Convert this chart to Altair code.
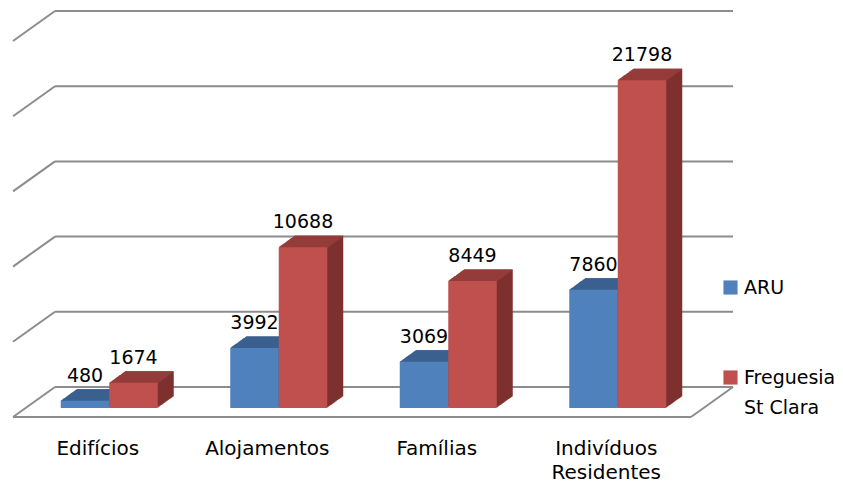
import altair as alt
import pandas as pd

# ---- data ----
categories = ["Edifícios", "Alojamentos", "Famílias", "Indivíduos Residentes"]
series_names = ["ARU", "Freguesia St Clara"]
aru_values = [480, 3992, 3069, 7860]
freguesia_values = [1674, 10688, 8449, 21798]
grid_values = [0, 5000, 10000, 15000, 20000, 25000]

# ---- styles ----
front_colors = ["#4F81BD", "#C0504D"]
top_colors = ["#3B6190", "#953D3A"]
side_colors = ["#34567F", "#7E312F"]
grid_color = "#8C8C8C"
FONT = "DejaVu Sans"

W, H = 678, 376
BAR_W = 48.5
GROUP_SHIFT = 11.5
series_shift = [GROUP_SHIFT - BAR_W / 2, GROUP_SHIFT + BAR_W / 2]
DEPTH_X = 16
SLOPE = 0.72
BACK_DX = 42
BACK_DY = -21
FRONT_DY = 9

rows = []
for c, a, f in zip(categories, aru_values, freguesia_values):
    rows.append({"categoria": c, "serie": series_names[0], "valor": a})
    rows.append({"categoria": c, "serie": series_names[1], "valor": f})
df = pd.DataFrame(rows)
grid_df = pd.DataFrame({"v": grid_values})
floor_df = pd.DataFrame({"v": [grid_values[0]]})

y_scale = alt.Scale(domain=[grid_values[0], grid_values[-1]], nice=False, zero=True)

x_enc = alt.X(
    "categoria:N",
    sort=categories,
    scale=alt.Scale(domain=categories, paddingInner=0, paddingOuter=0),
    axis=alt.Axis(
        title=None, ticks=False, domain=False, labelAngle=0,
        labelFont=FONT, labelFontSize=20, labelColor="#000000",
        labelPadding=30, labelLineHeight=24,
        labelExpr="split(datum.label, ' ')",
    ),
)
y_enc = alt.Y("valor:Q", scale=y_scale, axis=None)

layers = []

# back wall grid lines
layers.append(
    alt.Chart(grid_df).mark_rule(
        color=grid_color, strokeWidth=2, xOffset=BACK_DX, x2Offset=BACK_DX, yOffset=BACK_DY
    ).encode(y=alt.Y("v:Q", scale=y_scale, axis=None), x=alt.value(0), x2=alt.value("width"))
)
# left wall diagonals
layers.append(
    alt.Chart(grid_df).mark_rule(
        color=grid_color, strokeWidth=2, x2Offset=BACK_DX, yOffset=FRONT_DY, y2Offset=BACK_DY
    ).encode(y=alt.Y("v:Q", scale=y_scale, axis=None), y2="v:Q", x=alt.value(0), x2=alt.value(0))
)
# floor front edge
layers.append(
    alt.Chart(floor_df).mark_rule(
        color=grid_color, strokeWidth=2, yOffset=FRONT_DY
    ).encode(y=alt.Y("v:Q", scale=y_scale, axis=None), x=alt.value(0), x2=alt.value("width"))
)
# floor right edge
layers.append(
    alt.Chart(floor_df).mark_rule(
        color=grid_color, strokeWidth=2, x2Offset=BACK_DX, yOffset=FRONT_DY, y2Offset=BACK_DY
    ).encode(y=alt.Y("v:Q", scale=y_scale, axis=None), y2="v:Q",
             x=alt.value("width"), x2=alt.value("width"))
)

legend = alt.Legend(
    title=None, orient="none", legendX=708, legendY=246, padding=0,
    symbolType="square", symbolSize=200, symbolStrokeWidth=0,
    labelFont=FONT, labelFontSize=19, labelColor="#000000", labelOffset=4,
    rowPadding=70, labelLimit=200,
    labelExpr="datum.label == 'Freguesia St Clara' ? ['Freguesia', 'St Clara'] : datum.label",
)

for s_idx, s in enumerate(series_names):
    base = alt.Chart().transform_filter(alt.datum.serie == s)
    off = series_shift[s_idx]
    # side / depth
    for i in range(DEPTH_X, 0, -1):
        layers.append(
            base.mark_bar(
                width=BAR_W, xOffset=off + i, yOffset=-SLOPE * i, y2Offset=-SLOPE * i,
                color=side_colors[s_idx],
            ).encode(x=x_enc, y=y_enc)
        )
    # top face
    for i in range(DEPTH_X):
        layers.append(
            base.mark_bar(
                width=BAR_W, xOffset=off + i + 0.5,
                yOffset=-SLOPE * (i + 1), y2Offset=-SLOPE * i + 0.6,
                color=top_colors[s_idx],
            ).encode(x=x_enc, y=y_enc, y2="valor:Q")
        )
    # front face
    layers.append(
        base.mark_bar(width=BAR_W, xOffset=off).encode(
            x=x_enc, y=y_enc,
            color=alt.Color("serie:N", scale=alt.Scale(domain=series_names, range=front_colors),
                            legend=legend),
        )
    )
    # value labels
    layers.append(
        base.mark_text(
            xOffset=off, yOffset=-19, baseline="alphabetic", align="center",
            font=FONT, fontSize=19, color="#000000",
        ).encode(x=x_enc, y=y_enc, text=alt.Text("valor:Q", format="d"))
    )

chart = (
    alt.layer(*layers, data=df)
    .properties(
        width=W, height=H,
        padding={"left": 5, "top": 24, "right": 144, "bottom": 76},
        autosize=alt.AutoSizeParams(type="none"),
        background="white",
    )
    .configure(style={"guide-label": {"lineHeight": 30}})
    .configure_view(stroke=None, strokeWidth=0)
)

chart.save("out.html", embed_options={"renderer": "svg", "actions": False})
